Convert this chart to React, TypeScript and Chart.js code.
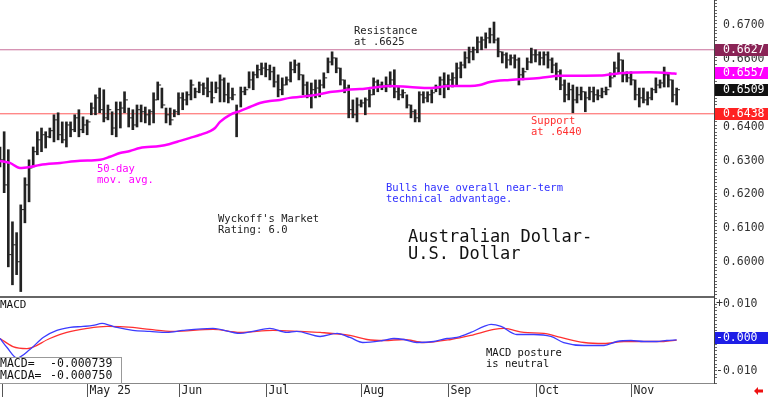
import React, { useEffect, useRef } from 'react';
import { Chart, registerables } from 'chart.js';

Chart.register(...registerables);

const FONT = "'DejaVu Sans Mono', monospace";

// ---- daily OHLC (high / low / close) ----
const highs = [
  0.6340, 0.6385, 0.6332, 0.6119, 0.6087, 0.6169, 0.6249, 0.6302, 0.6340, 0.6385,
  0.6396, 0.6385, 0.6396, 0.6435, 0.6441, 0.6414, 0.6414, 0.6414, 0.6435, 0.6450,
  0.6429, 0.6420, 0.6470, 0.6494, 0.6514, 0.6509, 0.6464, 0.6444, 0.6473, 0.6473,
  0.6503, 0.6455, 0.6450, 0.6464, 0.6464, 0.6458, 0.6450, 0.6500, 0.6532, 0.6514,
  0.6455, 0.6455, 0.6450, 0.6500, 0.6500, 0.6503, 0.6538, 0.6514, 0.6532, 0.6529,
  0.6544, 0.6532, 0.6532, 0.6553, 0.6544, 0.6529, 0.6514, 0.6464, 0.6517, 0.6517,
  0.6562, 0.6562, 0.6582, 0.6588, 0.6588, 0.6582, 0.6576, 0.6553, 0.6544, 0.6547,
  0.6591, 0.6597, 0.6588, 0.6553, 0.6532, 0.6529, 0.6538, 0.6538, 0.6559, 0.6603,
  0.6621, 0.6603, 0.6573, 0.6538, 0.6523, 0.6479, 0.6485, 0.6479, 0.6485, 0.6509,
  0.6544, 0.6538, 0.6532, 0.6547, 0.6562, 0.6568, 0.6517, 0.6509, 0.6494, 0.6464,
  0.6450, 0.6503, 0.6503, 0.6503, 0.6509, 0.6523, 0.6547, 0.6559, 0.6553, 0.6559,
  0.6588, 0.6591, 0.6621, 0.6635, 0.6635, 0.6665, 0.6665, 0.6677, 0.6691, 0.6709,
  0.6662, 0.6621, 0.6618, 0.6612, 0.6612, 0.6603, 0.6573, 0.6603, 0.6632, 0.6627,
  0.6621, 0.6621, 0.6621, 0.6603, 0.6588, 0.6568, 0.6538, 0.6529, 0.6523, 0.6517,
  0.6517, 0.6503, 0.6517, 0.6517, 0.6509, 0.6514, 0.6517, 0.6559, 0.6591, 0.6618,
  0.6597, 0.6562, 0.6562, 0.6538, 0.6514, 0.6514, 0.6503, 0.6514, 0.6544, 0.6538,
  0.6576, 0.6559, 0.6538, 0.6514,
];
const lows = [
  0.6281, 0.6205, 0.5986, 0.5933, 0.5963, 0.5913, 0.6116, 0.6178, 0.6281, 0.6317,
  0.6326, 0.6337, 0.6367, 0.6355, 0.6361, 0.6352, 0.6340, 0.6370, 0.6385, 0.6370,
  0.6382, 0.6376, 0.6435, 0.6435, 0.6441, 0.6414, 0.6420, 0.6376, 0.6370, 0.6396,
  0.6441, 0.6399, 0.6391, 0.6399, 0.6414, 0.6411, 0.6405, 0.6411, 0.6479, 0.6455,
  0.6411, 0.6405, 0.6429, 0.6435, 0.6450, 0.6464, 0.6479, 0.6485, 0.6500, 0.6494,
  0.6488, 0.6470, 0.6500, 0.6473, 0.6473, 0.6470, 0.6479, 0.6370, 0.6458, 0.6494,
  0.6514, 0.6509, 0.6544, 0.6553, 0.6547, 0.6538, 0.6517, 0.6488, 0.6494, 0.6523,
  0.6532, 0.6559, 0.6538, 0.6494, 0.6485, 0.6455, 0.6485, 0.6488, 0.6514, 0.6559,
  0.6582, 0.6559, 0.6523, 0.6500, 0.6426, 0.6426, 0.6414, 0.6458, 0.6435, 0.6458,
  0.6494, 0.6503, 0.6509, 0.6503, 0.6517, 0.6485, 0.6479, 0.6485, 0.6455, 0.6426,
  0.6414, 0.6414, 0.6470, 0.6473, 0.6470, 0.6503, 0.6494, 0.6485, 0.6509, 0.6517,
  0.6523, 0.6544, 0.6573, 0.6588, 0.6597, 0.6618, 0.6627, 0.6632, 0.6647, 0.6647,
  0.6606, 0.6588, 0.6573, 0.6582, 0.6573, 0.6523, 0.6538, 0.6568, 0.6588, 0.6591,
  0.6582, 0.6582, 0.6573, 0.6559, 0.6538, 0.6509, 0.6473, 0.6479, 0.6441, 0.6470,
  0.6479, 0.6444, 0.6479, 0.6473, 0.6479, 0.6485, 0.6494, 0.6517, 0.6547, 0.6559,
  0.6532, 0.6532, 0.6523, 0.6479, 0.6458, 0.6470, 0.6464, 0.6479, 0.6500, 0.6514,
  0.6517, 0.6517, 0.6473, 0.6464,
];
const closes = [
  0.6302, 0.6228, 0.6022, 0.6051, 0.6001, 0.6155, 0.6228, 0.6278, 0.6326, 0.6361,
  0.6376, 0.6370, 0.6388, 0.6420, 0.6376, 0.6361, 0.6405, 0.6391, 0.6426, 0.6391,
  0.6405, 0.6414, 0.6455, 0.6485, 0.6450, 0.6426, 0.6450, 0.6396, 0.6450, 0.6455,
  0.6479, 0.6426, 0.6405, 0.6450, 0.6444, 0.6435, 0.6444, 0.6479, 0.6523, 0.6464,
  0.6435, 0.6420, 0.6444, 0.6485, 0.6479, 0.6494, 0.6523, 0.6503, 0.6523, 0.6514,
  0.6503, 0.6485, 0.6514, 0.6538, 0.6494, 0.6485, 0.6494, 0.6444, 0.6503, 0.6509,
  0.6538, 0.6553, 0.6568, 0.6573, 0.6568, 0.6562, 0.6532, 0.6509, 0.6523, 0.6538,
  0.6568, 0.6582, 0.6553, 0.6523, 0.6494, 0.6509, 0.6514, 0.6523, 0.6544, 0.6591,
  0.6603, 0.6573, 0.6538, 0.6514, 0.6450, 0.6435, 0.6464, 0.6470, 0.6479, 0.6494,
  0.6532, 0.6523, 0.6517, 0.6523, 0.6538, 0.6503, 0.6494, 0.6500, 0.6464, 0.6444,
  0.6426, 0.6494, 0.6485, 0.6494, 0.6500, 0.6514, 0.6538, 0.6523, 0.6538, 0.6544,
  0.6573, 0.6582, 0.6603, 0.6621, 0.6627, 0.6650, 0.6656, 0.6662, 0.6671, 0.6656,
  0.6621, 0.6612, 0.6597, 0.6603, 0.6597, 0.6553, 0.6562, 0.6591, 0.6612, 0.6612,
  0.6603, 0.6612, 0.6597, 0.6582, 0.6562, 0.6523, 0.6494, 0.6509, 0.6479, 0.6494,
  0.6503, 0.6485, 0.6503, 0.6494, 0.6491, 0.6503, 0.6509, 0.6544, 0.6573, 0.6597,
  0.6553, 0.6544, 0.6538, 0.6494, 0.6485, 0.6479, 0.6485, 0.6509, 0.6523, 0.6529,
  0.6553, 0.6538, 0.6494, 0.6509,
];

// ---- 50-day moving average (read at sample bars) ----
const maIdx = [0, 2.4, 4.8, 7.2, 9.6, 14.5, 19.3, 24.1, 26.5, 28.9, 31.3, 33.7, 38.5, 40.9, 43.4, 45.8, 48.2, 50.6, 51.8, 53, 55.4, 57.8, 60.2, 62.6, 65, 67.4, 69.8, 72.3, 74.7, 77.1, 79.5, 81.9, 84.3, 86.7, 89.1, 93.9, 98.7, 103.6, 108.4, 113.2, 115.6, 118, 122.8, 130, 134.9, 144.5, 149.3, 156.5, 161.4, 163];
const maVal = [0.6299, 0.6293, 0.6278, 0.6281, 0.6287, 0.6293, 0.6299, 0.6302, 0.6311, 0.6322, 0.6328, 0.6337, 0.6343, 0.6349, 0.6358, 0.6367, 0.6376, 0.6387, 0.6396, 0.6414, 0.6435, 0.6446, 0.6458, 0.6470, 0.6476, 0.6479, 0.6485, 0.6488, 0.6491, 0.6496, 0.6502, 0.6505, 0.6510, 0.6511, 0.6514, 0.6520, 0.6517, 0.6514, 0.6520, 0.6520, 0.6523, 0.6532, 0.6538, 0.6544, 0.6550, 0.6551, 0.6558, 0.6561, 0.6558, 0.6556];

// ---- MACD (blue) and MACD average (red) ----
const macdIdx = [0, 1.7, 4.1, 7.2, 10.4, 13.7, 16.9, 20, 22.4, 24.6, 26.5, 28.2, 32, 36.1, 40.2, 44.1, 51.3, 57.8, 60.9, 65, 69.1, 71.5, 77.1, 81.2, 84.3, 87.4, 92.2, 94.9, 97.3, 100.4, 104.5, 107.7, 110.1, 113.4, 116.6, 118.3, 120.7, 124.5, 128.6, 132.7, 135.8, 140.7, 145.5, 148.6, 152, 155.1, 158.2, 160.6, 163];
const macdVal = [-0.0003, -0.0030, -0.0061, -0.0036, 0.0000, 0.0021, 0.0030, 0.0033, 0.0036, 0.0042, 0.0036, 0.0030, 0.0021, 0.0018, 0.0015, 0.0021, 0.0027, 0.0012, 0.0018, 0.0027, 0.0015, 0.0018, 0.0003, 0.0012, 0.0000, -0.0015, -0.0009, -0.0003, -0.0006, -0.0015, -0.0012, -0.0003, 0.0000, 0.0015, 0.0033, 0.0039, 0.0033, 0.0009, 0.0009, 0.0003, -0.0015, -0.0024, -0.0024, -0.0012, -0.0009, -0.0012, -0.0012, -0.0009, -0.0007];
const sigIdx = [0, 3.1, 6.5, 12, 16.1, 21, 25.8, 32, 36.1, 41.7, 51.3, 57.8, 65.8, 72.3, 77.1, 84.3, 88.4, 92.5, 97.3, 102.1, 108.6, 113.4, 119, 121.4, 126.2, 131, 135.1, 140.7, 145.5, 150.3, 155.1, 159.9, 163];
const sigVal = [-0.0003, -0.0027, -0.0033, -0.0003, 0.0015, 0.0027, 0.0033, 0.0030, 0.0024, 0.0018, 0.0024, 0.0015, 0.0021, 0.0018, 0.0015, 0.0006, -0.0006, -0.0009, -0.0006, -0.0015, -0.0006, 0.0006, 0.0024, 0.0027, 0.0015, 0.0012, 0.0000, -0.0015, -0.0018, -0.0012, -0.0012, -0.0012, -0.0008];

// ---- axis / reference values ----
const priceTicks = [0.60, 0.61, 0.62, 0.63, 0.64, 0.65, 0.66, 0.67];
const macdTicks = [0.01, -0.01];
const macdTickLabels = ['+0.010', '-0.010'];
const monthIdx = [0, 21, 43, 64, 87, 108, 129, 152];
const monthLabels = ['', 'May 25', 'Jun', 'Jul', 'Aug', 'Sep', 'Oct', 'Nov'];
const resistance = 0.6627;
const support = 0.6438;
const lastMA = 0.6557;
const lastClose = 0.6509;
const lastMacd = -0.000739;
const lastMacdA = -0.00075;
const priceMin = 0.5894;
const priceMax = 0.6774;
const macdMin = -0.0136;
const macdMax = 0.0118;
const xMax = 172;

const mainPlugin = {
  id: 'mainAnnot',
  afterDraw(chart: any) {
    const { ctx, chartArea, scales } = chart;
    const y = scales.y;
    ctx.save();
    ctx.textBaseline = 'middle';
    ctx.textAlign = 'left';
    // axis labels
    ctx.font = `11.5px ${FONT}`;
    ctx.fillStyle = '#333';
    priceTicks.forEach((v) => {
      ctx.fillText(v.toFixed(4), chartArea.right + 9, Math.round(y.getPixelForValue(v)) + 0.5);
    });
    // bottom separator
    ctx.fillStyle = '#666';
    ctx.fillRect(0, chartArea.bottom - 2, chartArea.right, 2);
    // price markers
    const boxes = [
      { v: resistance, bg: '#8a2456' },
      { v: lastMA, bg: '#ff00ff' },
      { v: lastClose, bg: '#111111' },
      { v: support, bg: '#ff2222' },
    ];
    boxes.forEach((b) => {
      const py = Math.round(y.getPixelForValue(b.v));
      ctx.fillStyle = b.bg;
      ctx.fillRect(chartArea.right + 1, py - 6, 53, 12);
      ctx.fillStyle = '#ffffff';
      ctx.fillText(b.v.toFixed(4), chartArea.right + 9, py + 0.5);
    });
    const txt = (s: string, x: number, yy: number, color: string, size: number) => {
      ctx.font = `${size}px ${FONT}`;
      ctx.fillStyle = color;
      ctx.fillText(s, x, yy);
    };
    txt('Resistance', 354, 31, '#222', 10.5);
    txt('at .6625', 354, 42, '#222', 10.5);
    txt('Support', 531, 121, '#ff3030', 10.5);
    txt('at .6440', 531, 132, '#ff3030', 10.5);
    txt('50-day', 97, 169, '#ff00ff', 10.5);
    txt('mov. avg.', 97, 180, '#ff00ff', 10.5);
    txt("Wyckoff's Market", 218, 219, '#222', 10.5);
    txt('Rating: 6.0', 218, 230, '#222', 10.5);
    txt('Bulls have overall near-term', 386, 188, '#3030ff', 10.5);
    txt('technical advantage.', 386, 199, '#3030ff', 10.5);
    txt('Australian Dollar-', 408, 238, '#111', 17);
    txt('U.S. Dollar', 408, 255, '#111', 17);
    ctx.restore();
  },
};

const macdPlugin = {
  id: 'macdAnnot',
  afterDraw(chart: any) {
    const { ctx, chartArea, scales } = chart;
    const x = scales.x;
    const y = scales.y;
    ctx.save();
    ctx.fillStyle = '#888';
    ctx.fillRect(0, chartArea.bottom, chartArea.right, 1);
    ctx.textBaseline = 'middle';
    ctx.textAlign = 'left';
    // axis labels
    ctx.font = `11.5px ${FONT}`;
    ctx.fillStyle = '#333';
    macdTicks.forEach((v, k) => {
      ctx.fillText(macdTickLabels[k], chartArea.right + 2, Math.round(y.getPixelForValue(v)) + 0.5);
    });
    ctx.font = `11px ${FONT}`;
    ctx.fillStyle = '#111';
    ctx.fillText('MACD', 0, 7);
    // value box
    ctx.fillStyle = '#ffffff';
    ctx.fillRect(0, 59, 122, 26);
    ctx.strokeStyle = '#999';
    ctx.lineWidth = 1;
    ctx.strokeRect(-0.5, 59.5, 122, 26);
    ctx.fillStyle = '#111';
    ctx.font = `11.5px ${FONT}`;
    ctx.fillText('MACD=', 0, 66);
    ctx.fillText(lastMacd.toFixed(6), 50, 66);
    ctx.fillText('MACDA=', 0, 78);
    ctx.fillText(lastMacdA.toFixed(6), 50, 78);
    // posture note
    ctx.font = `10.5px ${FONT}`;
    ctx.fillText('MACD posture', 486, 55);
    ctx.fillText('is neutral', 486, 66);
    // zero marker
    const zy = Math.round(y.getPixelForValue(0));
    ctx.fillStyle = '#1e1ee6';
    ctx.fillRect(chartArea.right + 1, zy - 5, 54, 12);
    ctx.fillStyle = '#ffffff';
    ctx.font = `11.5px ${FONT}`;
    ctx.fillText('-0.000', chartArea.right + 2, zy + 1);
    // month axis
    ctx.strokeStyle = '#555';
    ctx.fillStyle = '#222';
    monthIdx.forEach((m, k) => {
      const px = Math.round(x.getPixelForValue(m)) + (k === 0 ? 2 : 0) + 0.5;
      ctx.beginPath();
      ctx.moveTo(px, chartArea.bottom + 1);
      ctx.lineTo(px, chart.height);
      ctx.stroke();
      if (monthLabels[k]) ctx.fillText(monthLabels[k], px + 2, chartArea.bottom + 8);
    });
    // red arrow
    ctx.fillStyle = '#ee1111';
    const ay = chartArea.bottom + 8;
    ctx.beginPath();
    ctx.moveTo(754, ay);
    ctx.lineTo(758, ay - 4);
    ctx.lineTo(758, ay - 1.5);
    ctx.lineTo(763, ay - 1.5);
    ctx.lineTo(763, ay + 1.5);
    ctx.lineTo(758, ay + 1.5);
    ctx.lineTo(758, ay + 4);
    ctx.closePath();
    ctx.fill();
    ctx.restore();
  },
};

const rightAxis = (min: number, max: number) => ({
  position: 'right',
  min,
  max,
  afterFit: (s: any) => {
    s.width = 54;
    s.paddingTop = 0;
    s.paddingBottom = 0;
  },
  border: { display: true, color: '#444', width: 1 },
  grid: { drawOnChartArea: false, drawTicks: true, tickLength: 3, color: '#555', tickColor: '#666' },
  ticks: { display: false, stepSize: 0.001, autoSkip: false },
});

export default function App() {
  const refA = useRef<HTMLCanvasElement>(null);
  const refB = useRef<HTMLCanvasElement>(null);

  useEffect(() => {
    document.body.style.margin = '0';
    const idx = closes.map((_, i) => i);
    const xScale: any = { type: 'linear', min: 0, max: xMax, display: false, offset: false };

    const chartA = new Chart(refA.current as HTMLCanvasElement, {
      type: 'bar',
      data: {
        datasets: [
          {
            type: 'line',
            data: maIdx.map((x, k) => ({ x, y: maVal[k] })),
            borderColor: '#ff00ff',
            borderWidth: 2.5,
            pointRadius: 0,
            pointHoverRadius: 0,
            cubicInterpolationMode: 'monotone',
            order: 0,
          } as any,
          {
            type: 'bar',
            data: idx.map((i) => ({ x: i, y: [lows[i], highs[i]] })),
            backgroundColor: '#222',
            barThickness: 2,
            order: 1,
          } as any,
          {
            type: 'scatter',
            data: idx.map((i) => ({ x: i + 0.5, y: closes[i] })),
            pointStyle: 'line',
            pointRadius: 1.3,
            pointHoverRadius: 1.3,
            borderWidth: 1,
            borderColor: '#222',
            order: 1,
          } as any,
          {
            type: 'line',
            data: [{ x: 0, y: resistance }, { x: xMax, y: resistance }],
            borderColor: '#c86e9a',
            borderWidth: 1,
            pointRadius: 0,
            pointHoverRadius: 0,
            order: 2,
          } as any,
          {
            type: 'line',
            data: [{ x: 0, y: support }, { x: xMax, y: support }],
            borderColor: '#ff5a5a',
            borderWidth: 1,
            pointRadius: 0,
            pointHoverRadius: 0,
            order: 2,
          } as any,
        ],
      },
      options: {
        responsive: false,
        devicePixelRatio: 1,
        animation: false,
        events: [],
        layout: { padding: 0, autoPadding: false },
        plugins: { legend: { display: false }, tooltip: { enabled: false } },
        scales: {
          x: xScale,
          y: rightAxis(priceMin, priceMax) as any,
        },
      } as any,
      plugins: [mainPlugin],
    });

    const chartB = new Chart(refB.current as HTMLCanvasElement, {
      type: 'line',
      data: {
        datasets: [
          {
            data: macdIdx.map((x, k) => ({ x, y: macdVal[k] })),
            borderColor: '#3c3cff',
            borderWidth: 1.3,
            pointRadius: 0,
            pointHoverRadius: 0,
            cubicInterpolationMode: 'monotone',
          },
          {
            data: sigIdx.map((x, k) => ({ x, y: sigVal[k] })),
            borderColor: '#ff3030',
            borderWidth: 1.3,
            pointRadius: 0,
            pointHoverRadius: 0,
            cubicInterpolationMode: 'monotone',
          },
        ],
      },
      options: {
        responsive: false,
        devicePixelRatio: 1,
        animation: false,
        events: [],
        layout: { padding: { top: 0, bottom: 14, left: 0, right: 0 }, autoPadding: false },
        plugins: { legend: { display: false }, tooltip: { enabled: false } },
        scales: {
          x: { ...xScale },
          y: rightAxis(macdMin, macdMax) as any,
        },
      } as any,
      plugins: [macdPlugin],
    });

    return () => {
      chartA.destroy();
      chartB.destroy();
    };
  }, []);

  return (
    <div style={{ width: 768, height: 397, background: '#fff', overflow: 'hidden' }}>
      <canvas ref={refA} width={768} height={298} style={{ display: 'block' }} />
      <canvas ref={refB} width={768} height={99} style={{ display: 'block' }} />
    </div>
  );
}
